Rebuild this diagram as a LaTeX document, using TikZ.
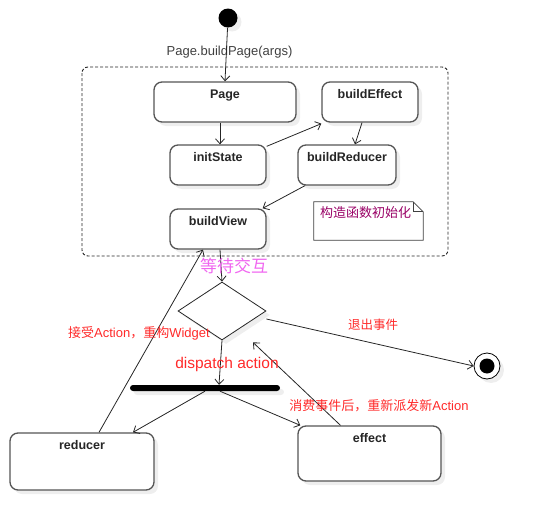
\documentclass[tikz,border=0pt]{standalone}
\usepackage{fontspec}
\setmainfont{Liberation Sans}
\newfontfamily\cjk{Noto Sans CJK SC}
\usetikzlibrary{arrows.meta,shapes.geometric,shadows,calc}
\definecolor{boxline}{HTML}{555555}
\definecolor{redtxt}{HTML}{FF2A2A}
\definecolor{pinktxt}{HTML}{F066F0}
\definecolor{notetxt}{HTML}{990066}
\definecolor{shade}{HTML}{EEEEEE}
\tikzset{
  shadowed/.style={drop shadow={shadow xshift=4pt,shadow yshift=-4pt,fill=shade,opacity=1}},
  statebox/.style={draw=boxline,line width=1.3pt,rounded corners=8pt,fill=white,shadowed,inner sep=0pt},
  boxname/.style={font=\fontsize{12.5}{14}\selectfont\bfseries,text=black!85,anchor=north,inner sep=0pt},
  conn/.style={draw=black!85,line width=0.8pt,-{Straight Barb[length=5pt,width=9pt]}},
  redlabel/.style={text=redtxt,inner sep=0pt},
}
\begin{document}
\begin{tikzpicture}[x=1pt,y=-1pt]
\useasboundingbox (0,0) rectangle (539,530);
% frame
\draw[draw=black!85,line width=0.9pt,dash pattern=on 3pt off 2pt,rounded corners=6pt] (82,67) rectangle (448,256);
% start
\node[circle,fill=black,minimum size=19pt,inner sep=0pt,shadowed] (start) at (228,18) {};
\node[text=black!75,font=\fontsize{13}{15}\selectfont,inner sep=0pt] (lbl0) at (229.5,52) {Page.buildPage(args)};
% state boxes
\node[statebox,minimum width=142pt,minimum height=40pt] (page) at (225,102) {};
\node[boxname] (pagetxt) at ([yshift=-8pt]page.north) {Page};
\node[statebox,minimum width=96pt,minimum height=40pt] (beff) at (370,102) {};
\node[boxname] (befftxt) at ([yshift=-8pt]beff.north) {buildEffect};
\node[statebox,minimum width=96pt,minimum height=40pt] (init) at (218,165) {};
\node[boxname] (inittxt) at ([yshift=-8pt]init.north) {initState};
\node[statebox,minimum width=98pt,minimum height=40pt] (bred) at (347,165) {};
\node[boxname] (bredtxt) at ([yshift=-8pt]bred.north) {buildReducer};
\node[statebox,minimum width=96pt,minimum height=40pt] (bview) at (218,229) {};
\node[boxname] (bviewtxt) at ([yshift=-8pt]bview.north) {buildView};
% note
\node[minimum width=109pt,minimum height=38pt,inner sep=0pt] (note) at (368.5,221) {};
\draw[draw=black!75,line width=0.8pt,fill=white]
  (note.north west) -- ([xshift=-10pt]note.north east) -- ([yshift=-10pt]note.north east)
  -- (note.south east) -- (note.south west) -- cycle;
\draw[draw=black!75,line width=0.8pt] ([xshift=-10pt]note.north east) -- ([xshift=-10pt,yshift=-10pt]note.north east) -- ([yshift=-10pt]note.north east);
\node[text=notetxt,font=\cjk\fontsize{13}{15}\selectfont,anchor=north west,inner sep=0pt] (notetxt) at ([xshift=6pt,yshift=-5pt]note.north west) {构造函数初始化};
% decision
\node[diamond,draw=black!85,line width=0.8pt,fill=white,minimum width=88pt,minimum height=58pt,inner sep=0pt,shadowed] (dec) at (222,311) {};
% fork bar
\node[fill=black,minimum width=150pt,minimum height=6pt,inner sep=0pt,rounded corners=3pt,shadowed] (bar) at (205,388) {};
% lower states
\node[statebox,minimum width=144pt,minimum height=57pt] (red) at (82,461.5) {};
\node[boxname] (redtxt) at ([yshift=-8pt]red.north) {reducer};
\node[statebox,minimum width=143pt,minimum height=55pt] (eff) at (369.5,453.5) {};
\node[boxname] (efftxt) at ([yshift=-8pt]eff.north) {effect};
% end
\node[circle,draw=black,line width=0.8pt,fill=white,minimum size=26pt,inner sep=0pt,shadowed] (end) at (487,366) {};
\node[circle,fill=black,minimum size=15pt,inner sep=0pt] (endin) at (end.center) {};
% connectors
\draw[conn] (start) -- ([xshift=0pt]page.north);
\draw[conn] ([xshift=-5pt]page.south) -- ([xshift=2pt]init.north);
\draw[conn] ([yshift=-2pt]init.north east) -- ([yshift=-1pt]beff.south west);
\draw[conn] ([xshift=-8pt]beff.south) -- ([xshift=8pt]bred.north);
\draw[conn] ([xshift=-42pt]bred.south) -- ([xshift=-4pt]bview.north east);
\draw[conn] ([xshift=2pt]bview.south) -- (dec.north);
\draw[conn] ([xshift=17pt]red.north) -- ([xshift=-15pt]bview.south);
\draw[conn] (dec.south) -- ([xshift=14pt]bar.north);
\draw[conn] ([xshift=0pt]bar.south) -- ([xshift=51pt]red.north);
\draw[conn] ([xshift=15pt]bar.south) -- ([xshift=3pt]eff.north west);
\draw[conn] ([xshift=-29pt]eff.north) -- ([xshift=31pt,yshift=-2pt]dec.south);
\draw[conn] ([yshift=-8pt]dec.east) -- (end.west);
% labels
\node[text=pinktxt,font=\cjk\fontsize{17}{19}\selectfont,inner sep=0pt] (wait) at (234,266) {等待交互};
\node[redlabel,font=\fontsize{15.5}{17}\selectfont] (disp) at (227,364) {dispatch action};
\node[redlabel,font=\fontsize{13}{15}\selectfont] (accept) at (139,333) {{\cjk 接受}Action{\cjk ，重构}Widget};
\node[redlabel,font=\cjk\fontsize{12.5}{15}\selectfont] (quit) at (373,325) {退出事件};
\node[redlabel,font=\fontsize{13}{15}\selectfont] (consume) at (379,406) {{\cjk 消费事件后，重新派发新}Action};
\end{tikzpicture}
\end{document}
